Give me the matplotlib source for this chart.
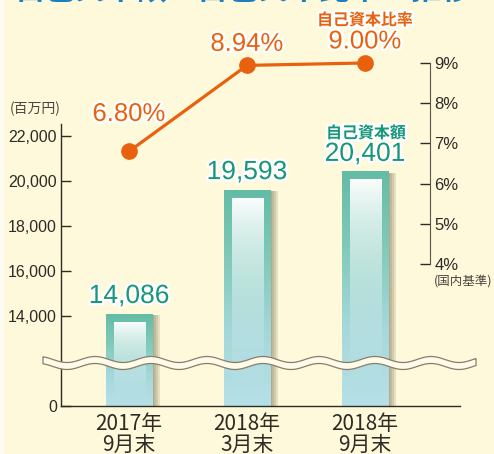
import numpy as np
import matplotlib
matplotlib.use('Agg')
import matplotlib.pyplot as plt
import matplotlib.patheffects as pe
from matplotlib import font_manager
from matplotlib.colors import LinearSegmentedColormap
from matplotlib.patches import Polygon, Rectangle

# データ
periods = ['2017年\n9月末', '2018年\n3月末', '2018年\n9月末']
capital = [14086, 19593, 20401]      # 自己資本額（百万円）
ratio = [6.80, 8.94, 9.00]           # 自己資本比率（%）
capital_ticks = [0, 14000, 16000, 18000, 20000, 22000]
ratio_ticks = [4, 5, 6, 7, 8, 9]

BG = '#fef9da'
ORANGE = '#e8610f'
GREEN = '#16967a'
TEAL = '#63bca6'
INK = '#2e2a26'

names = {f.name for f in font_manager.fontManager.ttflist}
narrow = 'Liberation Sans Narrow' if 'Liberation Sans Narrow' in names else 'Liberation Sans'
tick_size = 13 if narrow == 'Liberation Sans Narrow' else 11.5
plt.rcParams['font.family'] = ['Noto Sans CJK JP', 'DejaVu Sans']


# 省略軸: 12,000 未満を圧縮
def fwd(v):
    v = np.asarray(v, dtype=float)
    return np.where(v >= 12000, v, 10000 + v / 6)


def inv(u):
    u = np.asarray(u, dtype=float)
    return np.where(u >= 12000, u, (u - 10000) * 6)


fig = plt.figure(figsize=(4.94, 4.54), dpi=100, facecolor=BG)
fig.patches.append(Rectangle((0, 0), 3 / 494, 1, transform=fig.transFigure,
                             color='#fdfcf2', zorder=0))

ax = fig.add_axes([61 / 494, 48 / 454, 369 / 494, 376 / 454])
ax.set_facecolor('none')
ax.set_yscale('function', functions=(fwd, inv))
ax.set_xlim(-0.576, 2.551)
ax.set_ylim(0, 26711)
ax.set_autoscale_on(False)

x = np.arange(len(capital))
bars = ax.bar(x, capital, width=0.39, color=TEAL, zorder=2)
shadow = [pe.SimplePatchShadow(offset=(d, -0.6), shadow_rgbFace='#6f6548', alpha=0.17)
          for d in (1.5, 3, 4.5, 6)] + [pe.Normal()]

grad = np.linspace(0, 1, 256).reshape(-1, 1)
bar_cmap = LinearSegmentedColormap.from_list(
    'bar', ['#b6e0e7', '#a5d8db', '#82cabb', TEAL])
hl = np.ones((256, 1, 4))
hl[..., 3] = np.linspace(0, 1, 256)[:, None] ** 1.6 * 0.97
to_axes = ax.transData + ax.transAxes.inverted()
for b in bars:
    b.set_path_effects(shadow)
    (x0, y0), (x1, y1) = to_axes.transform(
        [(b.get_x(), 0), (b.get_x() + b.get_width(), b.get_height())])
    ax.imshow(grad, cmap=bar_cmap, origin='lower', extent=(x0, x1, y0, y1),
              transform=ax.transAxes, aspect='auto', clip_path=b,
              interpolation='bilinear', zorder=2.1)
    ax.imshow(hl, origin='lower',
              extent=(x0 + 8 / 369, x1 - 7 / 369, y0, y1 - 8 / 376),
              transform=ax.transAxes, aspect='auto',
              interpolation='bilinear', zorder=2.2)

outline = [pe.withStroke(linewidth=3.5, foreground='white')]
for xi, v in zip(x, capital):
    ax.annotate(f'{v:,}', (xi, v), xytext=(0, 13), textcoords='offset points',
                ha='center', va='center', fontsize=19, color=GREEN,
                family='Liberation Sans', path_effects=outline, zorder=6)

ax.set_xticks(x, periods)
ax.set_yticks(capital_ticks, [f'{v:,}' for v in capital_ticks])
ax.tick_params(axis='x', length=0, pad=5, labelsize=15, labelcolor=INK)
ax.tick_params(axis='y', direction='in', length=7.5, width=1, color=INK,
               pad=3, labelsize=tick_size, labelcolor=INK)
for lab in ax.get_yticklabels():
    lab.set_family(narrow)
for lab in ax.get_xticklabels():
    lab.set_linespacing(0.95)
for s in ('top', 'right'):
    ax.spines[s].set_visible(False)
ax.spines['left'].set_bounds(0, 22533)
ax.spines['bottom'].set_bounds(-0.576, 2.805)
for s in ('left', 'bottom'):
    ax.spines[s].set_color(INK)
    ax.spines[s].set_linewidth(1)

# 自己資本比率（右軸）
ax2 = ax.twinx()
ax2.set_ylim(0.47, 9.82)
for s in ('left', 'top', 'bottom'):
    ax2.spines[s].set_visible(False)
ax2.spines['right'].set_bounds(4, 9)
ax2.spines['right'].set_color('#5a5448')
ax2.set_yticks(ratio_ticks, [f'{v}%' for v in ratio_ticks])
ax2.tick_params(axis='y', direction='in', length=7.5, width=1, color=INK,
                pad=3, labelsize=tick_size + 0.5, labelcolor=INK)
for lab in ax2.get_yticklabels():
    lab.set_family(narrow)

ax2.plot(x, ratio, color=ORANGE, lw=2.3, marker='o', ms=11, zorder=4)
label_lift = [27, 15.5, 15.5]
for xi, r, lift in zip(x, ratio, label_lift):
    ax2.annotate(f'{r:.2f}%', (xi, r), xytext=(0, lift), textcoords='offset points',
                 ha='center', va='center', fontsize=18.5, color=ORANGE,
                 family='Liberation Sans', path_effects=outline)

# 文字
fig.text(15 / 494, 1 + 1.5 / 454, '自己資本額・自己資本比率の推移', fontsize=22,
         weight='bold', color='#1b7fc4', va='baseline', ha='left')
fig.text(365 / 494, 1 - 20 / 454, '自己資本比率', ha='center', va='center',
         fontsize=11.5, weight='bold', color=ORANGE, path_effects=outline)
fig.text(366 / 494, 1 - 133 / 454, '自己資本額', ha='center', va='center',
         fontsize=11.5, weight='bold', color=GREEN, path_effects=outline)
fig.text(10 / 494, 1 - 109 / 454, '(百万円)', ha='left', va='center',
         fontsize=10, color='#4a453e')
fig.text(492 / 494, 1 - 281 / 454, '(国内基準)', ha='right', va='center',
         fontsize=9, color='#4a453e')

# 波線（省略記号）
deco = fig.add_axes([0, 0, 1, 1], zorder=5)
deco.set_xlim(0, 494)
deco.set_ylim(454, 0)
deco.axis('off')
deco.patch.set_alpha(0)
wx = np.linspace(43, 476, 500)
wy = 363 - 3 * np.cos(2 * np.pi * (wx - 95) / 56)
band = np.vstack([np.column_stack([wx, wy - 3.5]),
                  np.column_stack([wx[::-1], wy[::-1] + 3.5])])
deco.add_patch(Polygon(band, closed=True, fc='#fffbe8', ec='#857e6c', lw=0.9))

fig.savefig('out.png', dpi=100, facecolor=fig.get_facecolor())
